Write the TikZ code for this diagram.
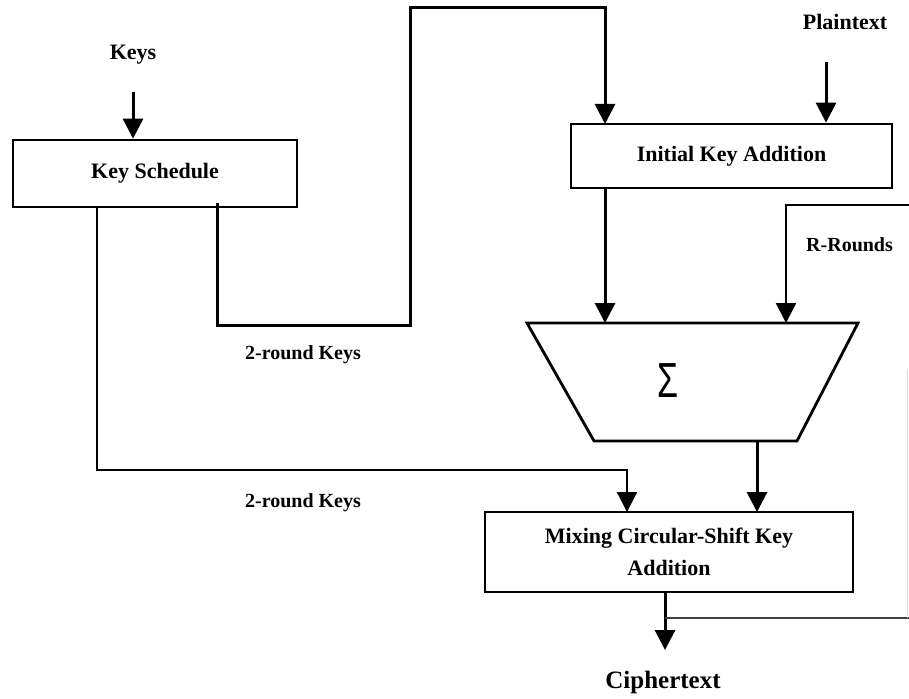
\documentclass[tikz,border=0pt]{standalone}
\usepackage{fontspec}
\setmainfont{Liberation Serif}
\newfontfamily\sigfont{Liberation Sans}
\usetikzlibrary{arrows.meta,calc}
\begin{document}
\begin{tikzpicture}[x=1pt,y=-1pt,
  lbl/.style={font=\fontsize{22}{24}\selectfont\bfseries, inner sep=0pt},
  slbl/.style={font=\fontsize{20}{22}\selectfont\bfseries, inner sep=0pt},
  blk/.style={draw, line width=2.8pt, inner sep=0pt, font=\fontsize{22}{32}\selectfont\bfseries, align=center},
  arr/.style={line width=3pt, -{Triangle[length=20pt,width=20pt]}},
  thinarr/.style={line width=2.2pt, -{Triangle[length=20pt,width=20pt]}},
  wire/.style={line width=2.2pt}
]
\useasboundingbox (0,0) rectangle (909,698);
\fill[white] (0,0) rectangle (909,698);

% blocks
\node[blk, minimum width=284pt, minimum height=67pt] (ks) at (155,173.5) {Key Schedule};
\node[blk, minimum width=321pt, minimum height=64pt] (ika) at (731.5,156) {Initial Key Addition};
\node[blk, minimum width=368pt, minimum height=80pt] (mix) at (669,552) {Mixing Circular-Shift Key\\Addition};

% trapezoid
\coordinate (tl) at (527,323);
\coordinate (tr) at (858,323);
\coordinate (br) at (797,441);
\coordinate (bl) at (594,441);
\draw[line width=2.8pt, line join=miter] (tl) -- (tr) -- (br) -- (bl) -- cycle;
\node[font=\sigfont\fontsize{34}{34}\selectfont, inner sep=0pt] (sig) at (668,381) {\scalebox{1}[1.45]{Σ}};

% labels
\node[lbl] (keys) at (133,55) {Keys};
\node[lbl] (pt) at (845,22) {Plaintext};
\node[slbl] (rr) at (806,245) [anchor=west] {R-Rounds};
\node[slbl] (k2a) at (303,355) {2-round Keys};
\node[slbl] (k2b) at (303,503) {2-round Keys};
\node[font=\fontsize{25}{28}\selectfont\bfseries, inner sep=0pt] (ct) at (663,682) {Ciphertext};

% coordinates
\coordinate (keysstart) at (133,92);
\coordinate (ptstart) at (826,62);
\coordinate (rrin) at (909,205);
\coordinate (ctend) at (665,650);

% arrows
\draw[arr] (keysstart) -- (keysstart |- ks.north);
\draw[arr] (ptstart) -- (ptstart |- ika.north);
\draw[arr] (ika.south -| 605,0) -- (605,323);
\draw[thinarr] (rrin) -- (786,205) -- (786,323);
\draw[arr] (757,441) -- (757,512);
\draw[thinarr] (ks.south -| 97,0) -- (97,470) -- (627,470) -- (627,512);
\draw[arr] (217,203) -- (217,325) -- (410,325) -- (410,8) -- (605,8) -- (605,124);
\draw[arr] (mix.south -| 665,0) -- (ctend);
\draw[line width=2pt, black!75] (665,618) -- (909,618);
\draw[line width=1pt, black!15] (907,370) -- (907,618);
\end{tikzpicture}
\end{document}
